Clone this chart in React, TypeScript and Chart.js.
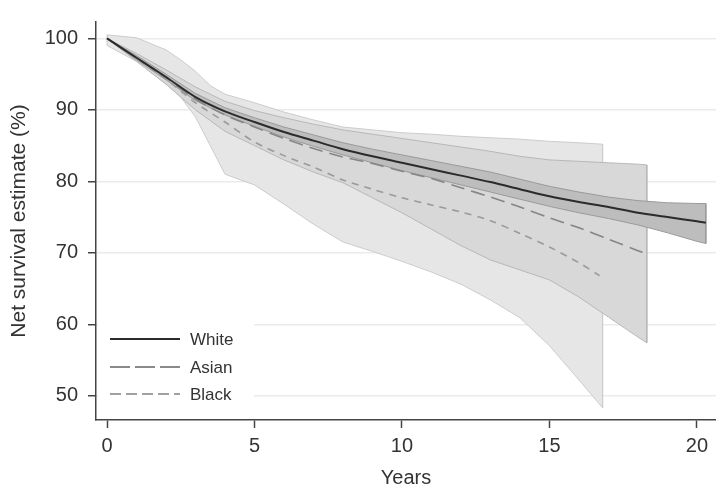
import React, { useEffect, useRef } from "react";
import { Chart, registerables } from "chart.js";

Chart.register(...registerables);

// ---- Data ----
const whiteYears = [0, 1, 2, 3, 4, 5, 6, 7, 8, 9, 10, 11, 12, 13, 14, 15, 16, 17, 18, 19, 20, 20.3];
const whiteEst = [100, 97.3, 94.6, 91.8, 89.8, 88.3, 86.9, 85.7, 84.5, 83.5, 82.6, 81.7, 80.8, 79.9, 78.9, 77.9, 77.1, 76.4, 75.6, 75.0, 74.4, 74.2];
const whiteUpper = [100, 97.6, 95.0, 92.3, 90.3, 88.9, 87.6, 86.5, 85.4, 84.5, 83.7, 82.9, 82.1, 81.3, 80.3, 79.3, 78.5, 77.8, 77.3, 77.0, 76.9, 76.9];
const whiteLower = [100, 97.0, 94.2, 91.3, 89.3, 87.7, 86.2, 84.9, 83.7, 82.6, 81.5, 80.5, 79.5, 78.5, 77.5, 76.5, 75.6, 74.8, 73.9, 72.8, 71.6, 71.3];

const asianYears = [0, 1, 2, 3, 4, 5, 6, 7, 8, 9, 10, 11, 12, 13, 14, 15, 16, 17, 18, 18.2];
const asianEst = [100, 97.3, 94.5, 91.5, 89.3, 87.6, 86.0, 84.6, 83.4, 82.5, 81.4, 80.4, 79.1, 77.8, 76.4, 74.9, 73.5, 71.9, 70.3, 70.0];
const asianCIYears = [0, 1, 2, 3, 4, 5, 6, 7, 8, 9, 10, 11, 12, 13, 14, 15, 16, 17, 18, 18.3];
const asianUpper = [100, 97.9, 95.6, 93.2, 91.2, 89.9, 88.9, 88.0, 87.2, 86.6, 86.0, 85.4, 84.8, 84.2, 83.5, 83.0, 82.8, 82.6, 82.4, 82.3];
const asianLower = [100, 96.8, 93.6, 90.0, 87.0, 85.0, 83.0, 81.3, 79.8, 77.7, 75.6, 73.3, 71.0, 69.0, 67.6, 66.2, 63.8, 61.0, 58.2, 57.4];

const blackYears = [0, 1, 2, 3, 4, 5, 6, 7, 8, 9, 10, 11, 12, 13, 14, 15, 16, 16.7];
const blackEst = [100, 97.2, 94.3, 91.0, 88.3, 85.5, 83.6, 82.0, 80.2, 78.9, 77.7, 76.7, 75.7, 74.5, 72.7, 70.8, 68.6, 66.8];
const blackCIYears = [0, 1, 2, 2.5, 3, 3.5, 4, 5, 6, 7, 8, 9, 10, 11, 12, 13, 14, 15, 16, 16.8];
const blackUpper = [100.5, 100.1, 98.4, 97.0, 95.4, 93.4, 92.2, 91.0, 89.7, 88.6, 87.6, 87.2, 86.8, 86.6, 86.3, 86.1, 85.9, 85.6, 85.4, 85.2];
const blackLower = [99.0, 96.8, 93.6, 91.8, 89.0, 85.0, 81.0, 79.5, 76.8, 74.0, 71.5, 70.2, 68.8, 67.3, 65.6, 63.4, 60.9, 57.0, 52.2, 48.3];

const xTicks = [0, 5, 10, 15, 20];
const yTicks = [50, 60, 70, 80, 90, 100];
const legendLabels = ["White", "Asian", "Black"];

const FONT = '"Liberation Sans", Arial, Helvetica, sans-serif';

const toPoints = (xs: number[], ys: number[]) => xs.map((x, i) => ({ x, y: ys[i] }));
const bandPolygon = (xs: number[], up: number[], lo: number[]) => [
  ...toPoints(xs, up),
  ...toPoints(xs, lo).reverse(),
  { x: xs[0], y: up[0] },
];

const legendStyles = [
  { color: "#2b2b2b", width: 2, dash: [] as number[] },
  { color: "#8a8a8a", width: 1.8, dash: [20, 5] },
  { color: "#a0a0a0", width: 1.8, dash: [11, 5] },
];

const insetLegend = {
  id: "insetLegend",
  afterDraw(chart: any) {
    const { ctx, chartArea } = chart;
    const left = chartArea.left;
    ctx.save();
    ctx.fillStyle = "#ffffff";
    ctx.fillRect(left + 2, 312, 156, chartArea.bottom - 313);
    ctx.font = `17px ${FONT}`;
    ctx.textBaseline = "middle";
    ctx.textAlign = "left";
    const rows = [339, 367, 394];
    legendLabels.forEach((label, i) => {
      const st = legendStyles[i];
      ctx.beginPath();
      ctx.setLineDash(st.dash);
      ctx.strokeStyle = st.color;
      ctx.lineWidth = st.width;
      ctx.moveTo(left + 14, rows[i]);
      ctx.lineTo(left + 84, rows[i]);
      ctx.stroke();
      ctx.setLineDash([]);
      ctx.fillStyle = "#333333";
      ctx.fillText(label, left + 94, rows[i] + 1);
    });
    ctx.restore();
  },
};

export default function App() {
  const ref = useRef<HTMLCanvasElement | null>(null);

  useEffect(() => {
    if (!ref.current) return;
    const chart = new Chart(ref.current, {
      type: "line",
      data: {
        datasets: [
          {
            label: "White",
            data: toPoints(whiteYears, whiteEst),
            borderColor: "#2b2b2b",
            borderWidth: 2,
            pointRadius: 0,
            fill: false,
            tension: 0.3,
          },
          {
            label: "Asian",
            data: toPoints(asianYears, asianEst),
            borderColor: "#858585",
            borderWidth: 1.6,
            borderDash: [14, 7],
            pointRadius: 0,
            fill: false,
            tension: 0.3,
          },
          {
            label: "Black",
            data: toPoints(blackYears, blackEst),
            borderColor: "#9a9a9a",
            borderWidth: 1.6,
            borderDash: [7, 6],
            pointRadius: 0,
            fill: false,
            tension: 0.3,
          },
          {
            label: "White CI",
            data: bandPolygon(whiteYears, whiteUpper, whiteLower),
            borderColor: "#9a9a9a",
            backgroundColor: "#bdbdbd",
            borderWidth: 1,
            pointRadius: 0,
            fill: "shape",
            tension: 0,
          },
          {
            label: "Asian CI",
            data: bandPolygon(asianCIYears, asianUpper, asianLower),
            borderColor: "#b8b8b8",
            backgroundColor: "#d8d8d8",
            borderWidth: 1,
            pointRadius: 0,
            fill: "shape",
            tension: 0,
          },
          {
            label: "Black CI",
            data: bandPolygon(blackCIYears, blackUpper, blackLower),
            borderColor: "#cccccc",
            backgroundColor: "#e6e6e6",
            borderWidth: 1,
            pointRadius: 0,
            fill: "shape",
            tension: 0,
          },
        ],
      },
      options: {
        responsive: false,
        animation: false,
        devicePixelRatio: 1,
        layout: { padding: { top: 10, left: 0, right: 0, bottom: 0 } },
        plugins: {
          legend: { display: false },
          tooltip: { enabled: false },
        },
        scales: {
          x: {
            type: "linear",
            min: -0.373,
            max: 20.645,
            afterFit: (s: any) => {
              s.height = 67;
            },
            afterBuildTicks: (s: any) => {
              s.ticks = xTicks.map((v) => ({ value: v }));
            },
            ticks: {
              stepSize: 5,
              includeBounds: false,
              padding: 6,
              color: "#333333",
              maxRotation: 0,
              font: { size: 20, family: FONT },
            },
            grid: {
              drawOnChartArea: false,
              tickLength: 8,
              tickColor: "#444444",
              tickWidth: 1.5,
            },
            border: { color: "#444444", width: 1.5 },
            title: {
              display: true,
              text: "Years",
              color: "#333333",
              font: { size: 20, family: FONT },
              padding: { top: 0, bottom: -3 },
            },
          },
          y: {
            min: 46.6,
            max: 102.3,
            afterFit: (s: any) => {
              s.width = 96;
            },
            afterBuildTicks: (s: any) => {
              s.ticks = yTicks.map((v) => ({ value: v }));
            },
            ticks: {
              stepSize: 10,
              includeBounds: false,
              padding: 10,
              color: "#333333",
              font: { size: 20, family: FONT },
            },
            grid: {
              color: "#ebebeb",
              lineWidth: 1.5,
              tickLength: 8,
              tickColor: "#444444",
              tickWidth: 1.5,
            },
            border: { color: "#444444", width: 1.5 },
            title: {
              display: true,
              text: "Net survival estimate (%)",
              color: "#333333",
              font: { size: 21, family: FONT },
              padding: { top: 7, bottom: 0 },
            },
          },
        },
      },
      plugins: [insetLegend],
    } as any);
    return () => chart.destroy();
  }, []);

  return (
    <div style={{ position: "fixed", left: 0, top: 0, width: 716, height: 487, background: "#fff" }}>
      <canvas ref={ref} width={716} height={487} style={{ display: "block" }} />
    </div>
  );
}
